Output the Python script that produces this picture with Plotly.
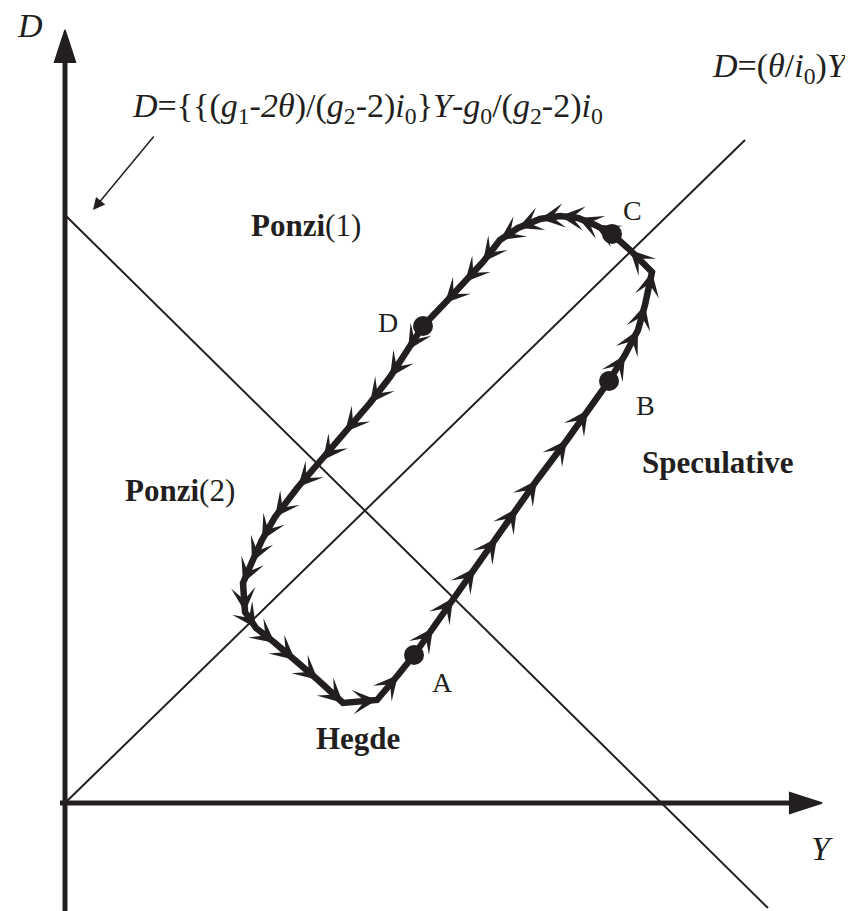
import plotly.graph_objects as go

INK = "#231f20"

# cycle path (Y, D) in diagram units, origin at the axes corner, traversed A -> B -> C -> D -> A
cycle_Y = [349, 368, 388, 410, 432, 452, 472, 502, 523, 544, 560, 573, 580, 587, 565, 547,
           530, 513, 495, 475, 453, 435, 418, 400, 380, 358, 343, 325, 305, 280, 258, 233,
           210, 197, 187, 178, 180, 191, 210, 230, 253, 278, 312, 333, 349]
cycle_D = [148, 175, 205, 235, 265, 295, 323, 363, 393, 422, 448, 473, 498, 531, 553, 569,
           578, 585, 587, 584, 575, 563, 541, 521, 500, 477, 453, 426, 400, 371, 343, 316,
           286, 263, 241, 220, 191, 175, 160, 143, 123, 100, 103, 128, 148]

# labelled states on the cycle
state_names = ["A", "B", "C", "D"]
state_Y = [349, 544, 547, 358]
state_D = [148, 422, 569, 477]
label_dx = [28, 36, 20, -35]
label_dy = [-27, -24, 24, 4]

# regime boundary lines (end points)
line1_Y = [0, 680]    # D = (theta/i0) Y
line1_D = [0, 663]
line2_Y = [0, 703]    # D = {(g1-2theta)/(g2-2)i0} Y - g0/(g2-2)i0
line2_D = [588, -105]

# coordinate axes (start, tip)
axisD_Y = [0, 0]
axisD_D = [-108, 773]
axisY_Y = [-5, 757]
axisY_D = [0, 0]

# pointer from the formula to its line (tail, tip)
pointer_Y = [90, 28]
pointer_D = [668, 593]

fig = go.Figure()

for xs, ys in [(line1_Y, line1_D), (line2_Y, line2_D)]:
    fig.add_trace(go.Scatter(x=xs, y=ys, mode="lines",
                             line=dict(color=INK, width=2), hoverinfo="skip"))

# axes, arrow head at the tip
for xs, ys in [(axisD_Y, axisD_D), (axisY_Y, axisY_D)]:
    fig.add_trace(go.Scatter(x=xs, y=ys, mode="lines+markers",
                             line=dict(color=INK, width=5),
                             marker=dict(symbol="arrow", size=[0, 34], angleref="previous",
                                         color=INK, opacity=1,
                                         line=dict(width=1.5, color=INK)),
                             hoverinfo="skip"))

fig.add_annotation(x=pointer_Y[1], y=pointer_D[1], ax=pointer_Y[0], ay=pointer_D[0],
                   axref="x", ayref="y", text="", showarrow=True,
                   arrowhead=2, arrowsize=1.6, arrowwidth=1.5, arrowcolor=INK)

# the cycle itself
fig.add_trace(go.Scatter(x=cycle_Y, y=cycle_D, mode="lines",
                         line=dict(color=INK, width=6.5), hoverinfo="skip"))

# direction arrows along it (barbed heads, one per segment)
states = set(zip(state_Y, state_D))
for i in range(1, len(cycle_Y)):
    if (cycle_Y[i], cycle_D[i]) in states:
        continue
    fig.add_annotation(x=cycle_Y[i], y=cycle_D[i], ax=cycle_Y[i - 1], ay=cycle_D[i - 1],
                       axref="x", ayref="y", text="", showarrow=True,
                       arrowhead=3, arrowsize=1.7, arrowwidth=2.4, arrowcolor=INK)

fig.add_trace(go.Scatter(x=state_Y, y=state_D, mode="markers",
                         marker=dict(size=20, color=INK), hoverinfo="skip"))

serif = "Liberation Serif"
txt = dict(showarrow=False, font=dict(family=serif, color=INK, size=31))
big = dict(family=serif, size=34, color=INK)

fig.add_annotation(x=-35, y=778, text="<i>D</i>", font=big, showarrow=False)
fig.add_annotation(x=757, y=-45, text="<i>Y</i>", font=big, showarrow=False)

fig.add_annotation(x=65, y=695, xanchor="left",
                   text="<i>D</i>={{(<i>g</i><sub>1</sub>-<i>2θ</i>)/(<i>g</i><sub>2</sub>-2)<i>i</i><sub>0</sub>}"
                        "<i>Y</i>-<i>g</i><sub>0</sub>/(<i>g</i><sub>2</sub>-2)<i>i</i><sub>0</sub>",
                   showarrow=False, font=big)
fig.add_annotation(x=786, y=735, xanchor="right",
                   text="<i>D</i>=(<i>θ</i>/<i>i</i><sub>0</sub>)<i>Y</i>",
                   showarrow=False, font=big)

fig.add_annotation(x=241, y=578, text="<b>Ponzi</b>(1)", **txt)
fig.add_annotation(x=115, y=313, text="<b>Ponzi</b>(2)", **txt)
fig.add_annotation(x=653, y=341, text="<b>Speculative</b>", **txt)
fig.add_annotation(x=293, y=65, text="<b>Hegde</b>", **txt)

lab = dict(showarrow=False, font=dict(family=serif, color=INK, size=28))
for n, yv, dv, dx, dy in zip(state_names, state_Y, state_D, label_dx, label_dy):
    fig.add_annotation(x=yv + dx, y=dv + dy, text=n, **lab)

# page body has an 8px margin, so the figure is 845x903 and the ranges start there
fig.update_xaxes(range=[-57, 788], visible=False, fixedrange=True)
fig.update_yaxes(range=[-108, 795], visible=False, fixedrange=True)
fig.update_layout(width=845, height=903, margin=dict(l=0, r=0, t=0, b=0),
                  plot_bgcolor="white", paper_bgcolor="white", showlegend=False)

fig.write_html("out.html")
